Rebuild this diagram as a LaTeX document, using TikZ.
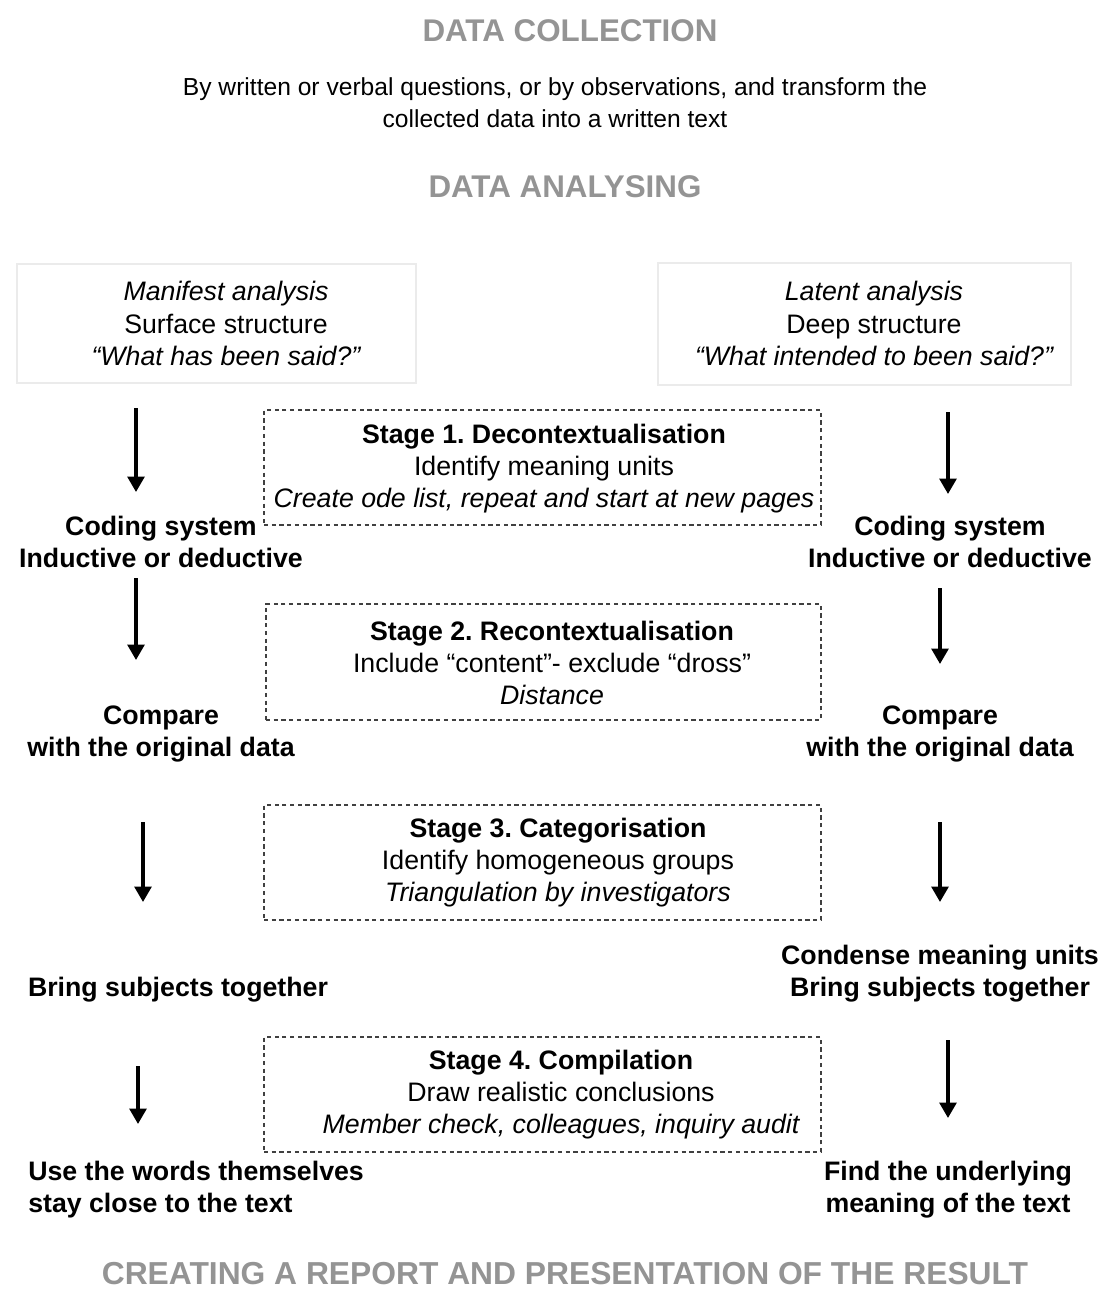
\documentclass[tikz,border=0pt]{standalone}
\usepackage{fontspec}
\setmainfont{Liberation Sans}
\usetikzlibrary{arrows.meta}
\frenchspacing

\tikzset{
  heading/.style={font=\fontsize{22.3}{26}\selectfont\bfseries, text=black!42},
  plain/.style={font=\fontsize{19}{22.8}\selectfont, align=center, inner sep=0pt},
  label/.style={font=\fontsize{19}{22.8}\selectfont\bfseries, align=center, inner sep=0pt},
  topbox/.style={draw=black!8, line width=0.8pt, inner sep=0pt},
  stagebox/.style={draw=black!75, dashed, line width=0.8pt, dash pattern=on 3pt off 2.5pt, inner sep=0pt},
  flow/.style={line width=2.4pt, -{Triangle[width=12pt,length=11pt]}}
}

\begin{document}
\begin{tikzpicture}[x=0.025cm, y=-0.025cm]
\useasboundingbox (0,0) rectangle (1103,1304);

% headings
\node[heading] (collect) at (570,31) {DATA COLLECTION};
\node[plain, font=\fontsize{17.5}{22.8}\selectfont] (collecttext) at (555,103)
  {By written or verbal questions, or by observations, and transform the\\collected data into a written text};
\node[heading] (analyse) at (565,187) {DATA ANALYSING};
\node[heading, font=\fontsize{22.6}{26}\selectfont\bfseries] (report) at (565,1274) {CREATING A REPORT AND PRESENTATION OF THE RESULT};

% manifest / latent boxes
\node[topbox, minimum width=399*0.025cm, minimum height=119*0.025cm] (mbox) at (216.5,323.5) {};
\node[plain] (mtext) at (226,323.5) {\itshape Manifest analysis\\Surface structure\\\itshape ``What has been said?''};
\node[topbox, minimum width=413*0.025cm, minimum height=122*0.025cm] (lbox) at (864.5,324) {};
\node[plain] (ltext) at (874,323.5) {\itshape Latent analysis\\Deep structure\\\itshape ``What intended to been said?''};

% stages
\node[stagebox, minimum width=557*0.025cm, minimum height=115*0.025cm] (s1box) at (542.5,467.5) {};
\node[plain] (s1) at (544,468.5) {\bfseries Stage 1. Decontextualisation\\Identify meaning units\\\itshape Create ode list, repeat and start at new pages};
\node[stagebox, minimum width=555*0.025cm, minimum height=116*0.025cm] (s2box) at (543.5,662) {};
\node[plain] (s2) at (552,663) {\bfseries Stage 2. Recontextualisation\\Include ``content''- exclude ``dross''\\\itshape Distance};
\node[stagebox, minimum width=557*0.025cm, minimum height=115*0.025cm] (s3box) at (542.5,862.5) {};
\node[plain] (s3) at (558,862.5) {\bfseries Stage 3. Categorisation\\Identify homogeneous groups\\\itshape Triangulation by investigators};
\node[stagebox, minimum width=557*0.025cm, minimum height=115*0.025cm] (s4box) at (542.5,1094.5) {};
\node[plain] (s4) at (561,1095) {\bfseries Stage 4. Compilation\\Draw realistic conclusions\\\itshape Member check, colleagues, inquiry audit};

% left column
\node[label] (lcode) at (161,542) {Coding system\\Inductive or deductive};
\node[label] (lcomp) at (161,734) {Compare\\with the original data};
\node[label] (lbring) at (178,990) {Bring subjects together};
\node[label, align=left, anchor=west] (lwords) at (28,1190) {Use the words themselves\\stay close to the text};

% right column
\node[label] (rcode) at (950,542) {Coding system\\Inductive or deductive};
\node[label] (rcomp) at (940,734) {Compare\\with the original data};
\node[label] (rbring) at (940,973.5) {Condense meaning units\\Bring subjects together};
\node[label] (rfind) at (948,1190) {Find the underlying\\meaning of the text};

% arrows
\foreach \n/\x/\a/\b in {la/136/408/492, lb/136/578/660, lc/143/822/902, ld/138/1066/1124,
                         ra/948/412/494, rb/940/588/664, rc/940/822/902, rd/948/1040/1118} {
  \coordinate (\n s) at (\x,\a);
  \coordinate (\n e) at (\x,\b);
  \draw[flow] (\n s) -- (\n e);
}
\end{tikzpicture}
\end{document}
